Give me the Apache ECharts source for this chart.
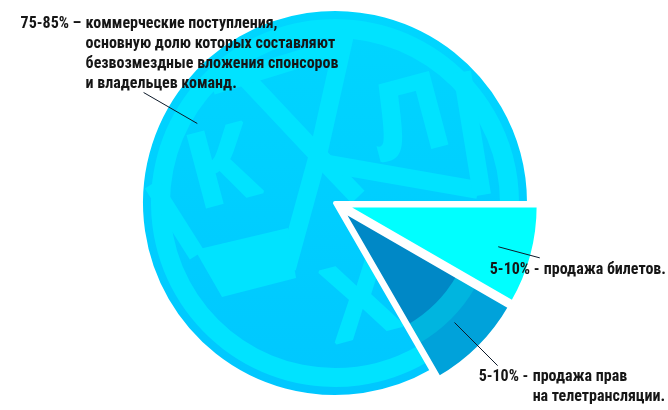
<!DOCTYPE html>
<html><head><meta charset="utf-8">
<script src="https://cdn.jsdelivr.net/npm/echarts@6/dist/echarts.min.js"></script>
<style>html,body{margin:0;padding:0;background:#fff}#c{width:668px;height:410px}</style>
</head><body><div id="c"></div>
<script>
// ---- data ----
const categories = ['продажа билетов', 'продажа прав на телетрансляции', 'коммерческие поступления'];
const shareValues = [8, 8, 80];
const shareRanges = ['5-10%', '5-10%', '75-85%'];
const rangeDashes = ['-', '-', '–'];
const labelTexts = [
  ['продажа билетов.'],
  ['продажа прав', 'на телетрансляции.'],
  ['коммерческие поступления,', 'основную долю которых составляют', 'безвозмездные вложения спонсоров', 'и владельцев команд.']
];
const explodedIdx = [0, 1];

// ---- styles ----
const FONT = 'Roboto, "Liberation Sans", Arial, sans-serif';
const WEIGHT = 'bold condensed';
const FS = 16;
const LH = 20;
const CENTER = [335, 203];
const R = 194;
const LIGHT = '#00E3FF';
const lineLens = [43, 61, 62];
const labelShift = [[-55, 2], [-24, 1], [-118, -79]];

const ctx = document.createElement('canvas').getContext('2d');
ctx.font = WEIGHT + ' ' + FS + 'px ' + FONT;
function prefixOf(i) { return shareRanges[i] + ' ' + rangeDashes[i] + ' '; }

function baseSeries(radius, colors, z, extra) {
  return Object.assign({
    type: 'pie', center: CENTER, radius: radius, startAngle: 0, clockwise: true,
    z: z, silent: true, animation: false, selectedMode: 'multiple', selectedOffset: 10,
    avoidLabelOverlap: false, label: { show: false }, labelLine: { show: false },
    emphasis: { disabled: true },
    data: categories.map((c, i) => ({
      name: c, value: shareValues[i], selected: explodedIdx.includes(i),
      itemStyle: { color: colors[i] }
    }))
  }, extra || {});
}

const mainGrad = { type: 'linear', x: 0, y: 0, x2: 0, y2: 1,
  colorStops: [{ offset: 0, color: '#00D6FF' }, { offset: 1, color: '#00C7FF' }] };

const labelSeries = baseSeries([0, 159], ['transparent', 'transparent', 'transparent'], 11);
labelSeries.data.forEach((d, i) => {
  const w = Math.ceil(ctx.measureText(prefixOf(i)).width);
  d.label = { rich: { p: { width: w, lineHeight: LH }, i: { width: w, lineHeight: LH }, t: { lineHeight: LH } } };
  d.labelLine = { length: lineLens[i], length2: 0 };
});
labelSeries.label = {
  show: true, position: 'outside', color: '#161616', fontWeight: WEIGHT, fontSize: FS,
  fontFamily: FONT, lineHeight: LH,
  formatter: (p) => {
    const i = p.dataIndex, lines = labelTexts[i];
    let s = '{p|' + prefixOf(i) + '}{t|' + lines[0] + '}';
    for (let k = 1; k < lines.length; k++) s += '\n{i| }{t|' + lines[k] + '}';
    return s;
  }
};
labelSeries.labelLine = { show: true, smooth: false, lineStyle: { color: '#0d1a2a', width: 1 } };
labelSeries.labelLayout = (params) => {
  const sh = labelShift[params.dataIndex];
  return { dx: sh[0], dy: sh[1], align: 'left', verticalAlign: 'top', labelLinePoints: params.labelLinePoints };
};

function band(points, w) {
  return { type: 'polyline', z: 4, silent: true, shape: { points: points },
    style: { stroke: LIGHT, lineWidth: w, fill: null, lineJoin: 'bevel' } };
}
function letter(ch, x, y) {
  return { type: 'text', z: 4, silent: true, x: x, y: y, rotation: 0.26,
    style: { text: ch, fill: LIGHT, stroke: LIGHT, lineWidth: 3,
      font: 'bold 106px "Liberation Sans", Arial, sans-serif', align: 'center', verticalAlign: 'middle' } };
}

const option = {
  backgroundColor: '#fff',
  animation: false,
  graphic: { elements: [
    band([[240, 72], [318, 155], [358, 197]], 18),
    band([[346, 30], [318, 155], [287, 268]], 18),
    band([[318, 162], [478, 190]], 18),
    band([[212, 86], [345, 45]], 18),
    band([[462, 72], [482, 195]], 18),
    band([[152, 184], [197, 255]], 17),
    { type: 'polygon', z: 4, silent: true, shape: { points: [[195, 250], [288, 228], [296, 278], [222, 297]] }, style: { fill: LIGHT } },
    letter('К', 224, 172),
    letter('Л', 410, 123),
    letter('Х', 362, 306)
  ] },
  series: [
    baseSeries([0, R], ['#00FFFF', '#00A2DA', mainGrad], 1),
    baseSeries([165, 184], ['transparent', 'transparent', LIGHT], 2),
    baseSeries([0, 154], ['transparent', '#00B5DF', 'transparent'], 5),
    baseSeries([0, 132], ['transparent', '#0088C6', 'transparent'], 6),
    baseSeries([0, R], ['transparent', 'transparent', 'transparent'], 10),
    labelSeries
  ]
};
// outline series: white border on every item
option.series[4].data.forEach(d => { d.itemStyle.borderColor = '#fff'; d.itemStyle.borderWidth = 4; });

const chart = echarts.init(document.getElementById('c'), null, { renderer: 'canvas' });
chart.setOption(option);
</script></body></html>
